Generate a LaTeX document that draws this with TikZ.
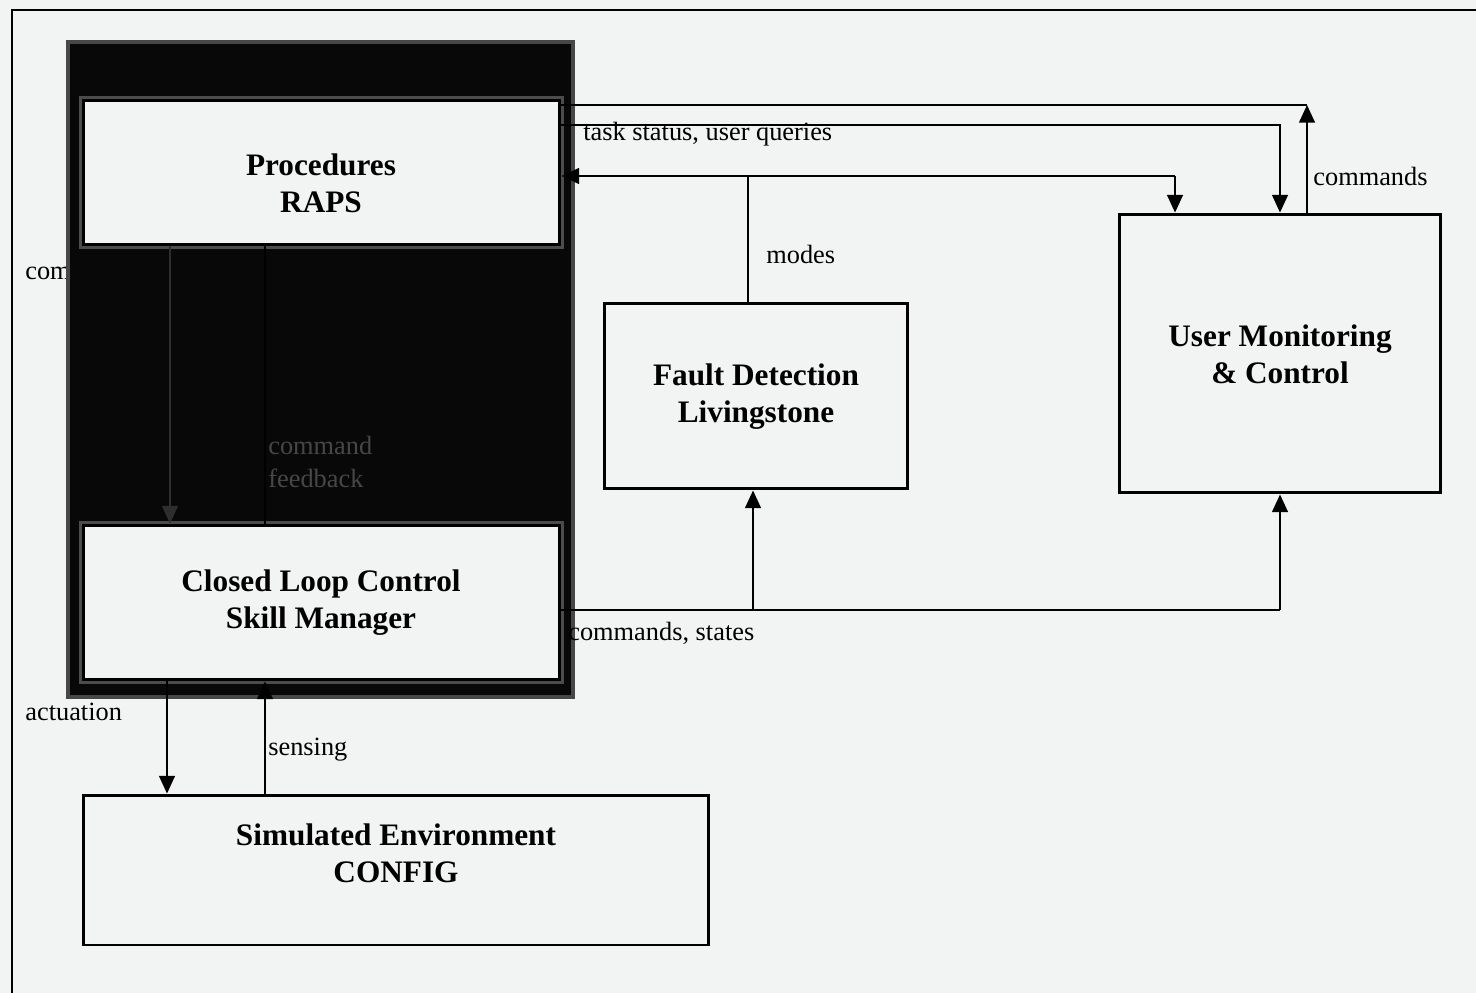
\documentclass[tikz,border=0pt]{standalone}
\usepackage{fontspec}
\setmainfont{Liberation Serif}
\usetikzlibrary{arrows.meta}
\definecolor{bg}{HTML}{F2F3F3}
\tikzset{
  box/.style={draw=black, line width=1.7pt, fill=bg, inner sep=0pt},
  inbox/.style={box, preaction={draw=black!70, line width=4.5pt}},
  darkpanel/.style={draw=black!72, line width=2.5pt, fill=black!97, inner sep=0pt},
  boxtext/.style={inner sep=0pt, align=center, font=\fontsize{17.8}{21}\selectfont\bfseries},
  lbl/.style={anchor=west, inner sep=0pt, font=\fontsize{15}{18}\selectfont},
  conn/.style={line width=0.9pt},
  arr/.style={conn, -{Triangle[length=10pt,width=9pt]}},
}
\begin{document}
\begin{tikzpicture}[x=0.02cm, y=-0.02cm]
  \fill[bg] (0,0) rectangle (1476,993);
  \useasboundingbox (0,0) rectangle (1476,993);
  % frame
  \coordinate (ftl) at (12,10);
  \coordinate (ftr) at (1476,10);
  \coordinate (fbl) at (12,993);
  \draw[line width=1.2pt] (fbl) -- (ftl) -- (ftr);

  % label partly hidden by the panel
  \node[lbl] (cmdhidden) at (25,270) {commands};

  % dark panel
  \node[darkpanel, minimum width=10.1cm, minimum height=13.1cm] (panel) at (320.5,369.5) {};

  % boxes
  \node[inbox, minimum width=9.54cm, minimum height=2.9cm] (proc) at (321.5,172.5) {};
  \node[inbox, minimum width=9.54cm, minimum height=3.1cm] (closed) at (321.5,602.5) {};
  \node[box, minimum width=6.08cm, minimum height=3.72cm] (fault) at (756,396) {};
  \node[box, minimum width=6.44cm, minimum height=5.58cm] (user) at (1280,353.5) {};
  \node[box, minimum width=12.52cm, minimum height=3.0cm] (sim) at (396,870) {};

  \node[boxtext] (proct) at (321,183.5) {Procedures\\RAPS};
  \node[boxtext] (closedt) at (321,603) {Closed Loop Control\\Skill Manager};
  \node[boxtext] (faultt) at (756,396.5) {Fault Detection\\Livingstone};
  \node[boxtext] (usert) at (1280,354) {User Monitoring\\\& Control};
  \node[boxtext] (simt) at (396,853.5) {Simulated Environment\\CONFIG};

  % connectors inside the panel
  \coordinate (pc) at (170,300);
  \draw[arr, draw=black!82, fill=black!82] (pc |- proc.south) -- (pc |- closed.north);
  \coordinate (pf) at (265,300);
  \draw[conn, draw=black] (pf |- closed.north) -- (pf |- proc.south);
  \node[lbl, text=black!72, align=left] (cfb1) at (268,445) {command};
  \node[lbl, text=black!72, align=left] (cfb2) at (268,478) {feedback};

  % commands: user -> procedures (top line)
  \coordinate (c1) at (1307,105);
  \draw[conn] (proc.east |- c1) -- (c1);
  \draw[arr] (c1 |- user.north) -- (c1);
  \node[lbl] (lcmd) at (1313,176) {commands};

  % task status, user queries: procedures -> user
  \coordinate (c2) at (1280,125);
  \draw[arr] (proc.east |- c2) -- (c2) -- (c2 |- user.north);
  \node[lbl] (ltask) at (583,134) {task status, user queries};

  % modes: fault -> procedures and user
  \coordinate (m) at (748,176);
  \coordinate (c3) at (1175,176);
  \draw[conn] (m |- fault.north) -- (m);
  \draw[arr] (c3) -- (c3 -| proc.east);
  \draw[arr] (c3) -- (c3 |- user.north);
  \node[lbl] (lmodes) at (766,254) {modes};

  % commands, states: closed loop -> fault and user
  \coordinate (c4) at (1280,610);
  \coordinate (c5) at (753,610);
  \draw[conn] (closed.east |- c4) -- (c4);
  \draw[arr] (c4) -- (c4 |- user.south);
  \draw[arr] (c5) -- (c5 |- fault.south);
  \node[lbl] (lcs) at (568,633) {commands, states};

  % actuation and sensing
  \coordinate (a) at (167,740);
  \coordinate (s) at (265,740);
  \draw[arr] (a |- closed.south) -- (a |- sim.north);
  \draw[arr] (s |- sim.north) -- (s |- closed.south);
  \node[lbl] (lact) at (25,712) {actuation};
  \node[lbl] (lsens) at (268,750) {sensing};
\end{tikzpicture}
\end{document}
